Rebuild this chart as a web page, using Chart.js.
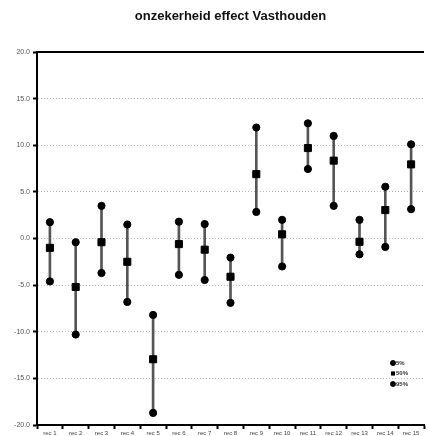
<!DOCTYPE html>
<html>
<head>
<meta charset="utf-8">
<script src="https://cdn.jsdelivr.net/npm/chart.js@4/dist/chart.umd.min.js"></script>
<style>
  html, body { margin: 0; padding: 0; background: #fff; }
  #wrap { width: 430px; height: 436px; }
</style>
</head>
<body>
<div id="wrap"><canvas id="myChart"></canvas></div>
<script>
// categories and values
const recLabels = ['rec 1', 'rec 2', 'rec 3', 'rec 4', 'rec 5', 'rec 6', 'rec 7', 'rec 8',
                   'rec 9', 'rec 10', 'rec 11', 'rec 12', 'rec 13', 'rec 14', 'rec 15'];
const p5  = [-4.6, -10.3, -3.7, -6.8, -18.7, -3.9, -4.45, -6.9, 2.85, -3.0, 7.45, 3.5, -1.7, -0.9, 3.15];
const p50 = [-1.0, -5.2, -0.4, -2.5, -12.95, -0.6, -1.2, -4.1, 6.9, 0.45, 9.7, 8.35, -0.35, 3.05, 7.95];
const p95 = [1.75, -0.4, 3.5, 1.5, -8.2, 1.8, 1.55, -2.05, 11.9, 2.0, 12.35, 11.0, 2.0, 5.55, 10.1];
const yTicks = [-20, -15, -10, -5, 0, 5, 10, 15, 20];

const ranges = p5.map((v, i) => [v, p95[i]]);
const fontFam = '"Liberation Sans", Arial, sans-serif';

// little legend in the lower right corner of the plot
const cornerLegend = {
  id: 'cornerLegend',
  afterDatasetsDraw(chart) {
    const c = chart.ctx;
    const a = chart.chartArea;
    const items = chart.data.datasets.filter(d => d.type === 'line');
    c.save();
    c.font = 'bold 6px ' + fontFam;
    c.textBaseline = 'middle';
    items.forEach((d, i) => {
      const x = a.right - 31;
      const y = a.bottom - 62 + i * 10.5;
      Chart.helpers.drawPoint(c, { pointStyle: d.pointStyle, radius: 2.7, borderWidth: 0 }, x, y);
      c.fillStyle = '#000';
      c.fill();
      c.fillStyle = '#333';
      c.fillText(d.label, x + 3, y);
    });
    c.restore();
  }
};

// thick frame line along the top
const topFrame = {
  id: 'topFrame',
  afterDraw(chart) {
    const c = chart.ctx;
    const a = chart.chartArea;
    c.save();
    c.strokeStyle = '#000';
    c.lineWidth = 2;
    c.beginPath();
    c.moveTo(a.left, a.top);
    c.lineTo(a.right, a.top);
    c.stroke();
    c.restore();
  }
};

const ctx = document.getElementById('myChart');

var chart = new Chart(ctx, {
  data: {
    labels: recLabels,
    datasets: [
      {
        type: 'bar',
        label: 'range',
        data: ranges,
        backgroundColor: '#555',
        barThickness: 2,
        order: 10
      },
      {
        type: 'line',
        label: '5%',
        data: p5,
        showLine: false,
        pointStyle: 'circle',
        pointRadius: 3.6,
        backgroundColor: '#000',
        borderColor: '#000',
        order: 1
      },
      {
        type: 'line',
        label: '50%',
        data: p50,
        showLine: false,
        pointStyle: 'rect',
        pointRadius: 5,
        backgroundColor: '#000',
        borderColor: '#000',
        order: 1
      },
      {
        type: 'line',
        label: '95%',
        data: p95,
        showLine: false,
        pointStyle: 'circle',
        pointRadius: 3.6,
        backgroundColor: '#000',
        borderColor: '#000',
        order: 1
      }
    ]
  },
  options: {
    responsive: true,
    maintainAspectRatio: false,
    animation: false,
    layout: { padding: { left: 4, right: 0, top: 0, bottom: 0 } },
    plugins: {
      legend: { display: false },
      tooltip: { enabled: false },
      title: {
        display: true,
        text: 'onzekerheid effect Vasthouden',
        fullSize: false,
        color: '#111',
        font: { family: fontFam, size: 13, weight: 'bold' },
        padding: { top: 9, bottom: 27.4 }
      }
    },
    scales: {
      x: {
        offset: true,
        grid: {
          offset: true,
          drawOnChartArea: false,
          tickLength: 4,
          tickColor: '#000',
          tickWidth: 2
        },
        border: { color: '#000', width: 2 },
        ticks: {
          color: '#444',
          maxRotation: 0,
          autoSkip: false,
          padding: 1,
          font: { family: fontFam, size: 6 }
        },
        afterFit(scale) { scale.height = 11; }
      },
      y: {
        min: -20,
        max: 20,
        afterBuildTicks(scale) { scale.ticks = yTicks.map(v => ({ value: v })); },
        grid: {
          color: '#bbb',
          tickLength: 4,
          tickColor: '#000',
          tickWidth: 2,
          tickBorderDash: []
        },
        border: { color: '#000', width: 2, dash: [1, 2] },
        ticks: {
          color: '#555',
          padding: 3,
          font: { family: fontFam, size: 7 },
          callback: v => v.toFixed(1)
        },
        afterFit(scale) { scale.width = 33; }
      }
    }
  },
  plugins: [cornerLegend, topFrame]
});
</script>
</body>
</html>
